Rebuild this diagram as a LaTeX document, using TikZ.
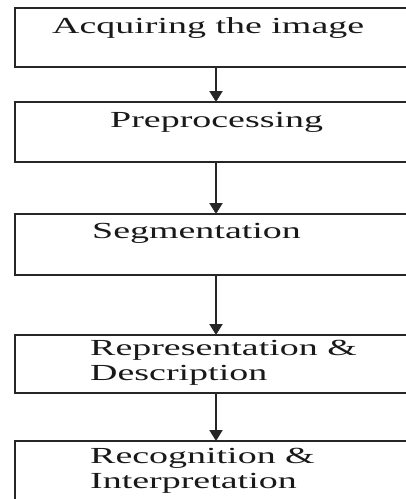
\documentclass[tikz,border=0pt]{standalone}
\usepackage{fontspec}
\newfontfamily\stagefont[FakeStretch=1.65]{Liberation Serif}
\usetikzlibrary{positioning,arrows.meta}

\begin{document}
\begin{tikzpicture}[x=1pt, y=-1pt, >={Triangle[width=13pt,length=11pt]},
  stage/.style={draw=black!85, line width=1.6pt, minimum width=402pt, inner sep=0pt, outer sep=0pt},
  caption/.style={anchor=base west, inner sep=0pt, align=left, text=black!90,
    font=\stagefont\fontsize{23}{25}\selectfont},
  flow/.style={->, draw=black!85, line width=2pt}]
\clip (0,0) rectangle (406,499);
% stages
\node[stage, minimum height=59pt, anchor=north west] (acq) at (15,8) {};
\node[stage, minimum height=60pt, below=35pt of acq] (pre) {};
\node[stage, minimum height=61pt, below=52pt of pre] (seg) {};
\node[stage, minimum height=58pt, below=60pt of seg] (rep) {};
\node[stage, minimum height=90pt, below=48pt of rep] (rec) {};
% texts (base = last line)
\node[caption] (acqtext) at ([shift={(37pt,-25pt)}]acq.north west) {Acquiring the image};
\node[caption] (pretext) at ([shift={(95pt,-25pt)}]pre.north west) {Preprocessing};
\node[caption] (segtext) at ([shift={(77pt,-24pt)}]seg.north west) {Segmentation};
\node[caption] (reptext) at ([shift={(75pt,-45pt)}]rep.north west) {Representation \&\\Description};
\node[caption] (rectext) at ([shift={(75pt,-47pt)}]rec.north west) {Recognition \&\\Interpretation};
% arrows
\draw[flow] (acq) -- (pre);
\draw[flow] (pre) -- (seg);
\draw[flow] (seg) -- (rep);
\draw[flow] (rep) -- (rec);
\end{tikzpicture}
\end{document}
